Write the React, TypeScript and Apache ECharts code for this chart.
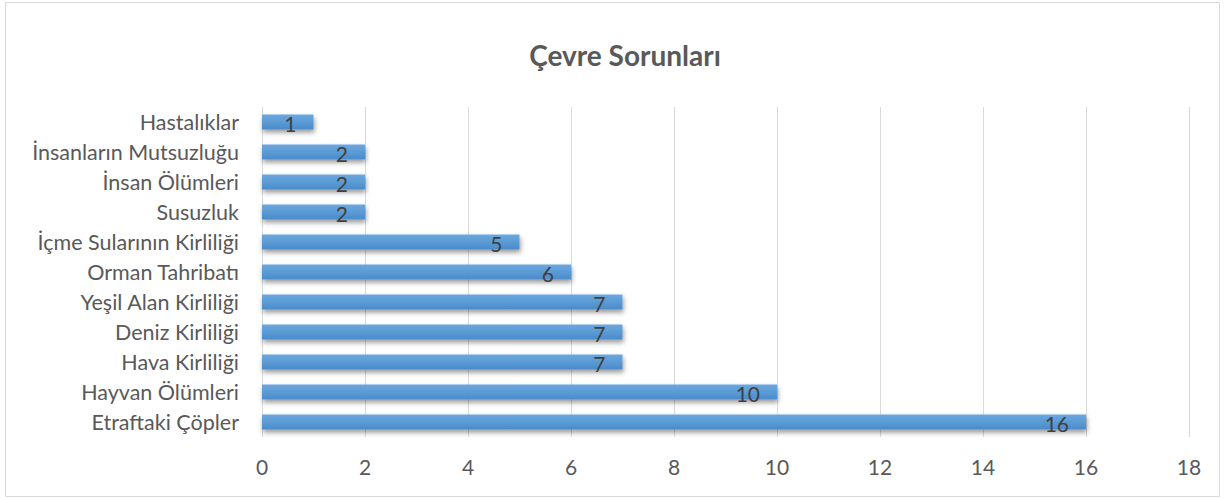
import React, { useEffect, useRef } from "react";
import * as echarts from "echarts";

const categories = [
  "Etraftaki Çöpler",
  "Hayvan Ölümleri",
  "Hava Kirliliği",
  "Deniz Kirliliği",
  "Yeşil Alan Kirliliği",
  "Orman Tahribatı",
  "İçme Sularının Kirliliği",
  "Susuzluk",
  "İnsan Ölümleri",
  "İnsanların Mutsuzluğu",
  "Hastalıklar",
];
const values = [16, 10, 7, 7, 7, 6, 5, 2, 2, 2, 1];
const title = "Çevre Sorunları";

export default function App() {
  const ref = useRef<HTMLDivElement>(null);
  useEffect(() => {
    if (!ref.current) return;
    const chart = echarts.init(ref.current, null, { renderer: "svg" });
    const font = "Lato, 'Open Sans', sans-serif";
    chart.setOption({
      animation: false,
      backgroundColor: "#ffffff",
      graphic: [
        {
          type: "rect",
          shape: { x: 5.5, y: 2.5, width: 1214, height: 494 },
          style: { fill: "none", stroke: "#d9d9d9", lineWidth: 1 },
          silent: true,
        },
        {
          type: "text",
          x: 625,
          y: 55,
          style: {
            text: title,
            fontFamily: font,
            fontSize: 28,
            fontWeight: "bold",
            fill: "#595959",
            textAlign: "center",
            textVerticalAlign: "middle",
          },
          silent: true,
        },
      ],
      grid: { left: 262, top: 107, width: 927, height: 330, containLabel: false },
      xAxis: {
        type: "value",
        min: 0,
        max: 18,
        interval: 2,
        axisLine: { show: false },
        axisTick: { show: false },
        splitLine: { lineStyle: { color: "#d9d9d9", width: 1 } },
        axisLabel: { fontFamily: font, fontSize: 21, color: "#595959", margin: 19 },
      },
      yAxis: {
        type: "category",
        data: categories,
        axisLine: { show: false },
        axisTick: { show: false },
        axisLabel: { fontFamily: font, fontSize: 21.5, color: "#595959", margin: 23 },
      },
      series: [
        {
          type: "bar",
          data: values,
          barWidth: 15,
          itemStyle: {
            color: new echarts.graphic.LinearGradient(0, 0, 0, 1, [
              { offset: 0, color: "#6aa7df" },
              { offset: 0.5, color: "#5b9bd5" },
              { offset: 1, color: "#4a8acb" },
            ]),
            shadowColor: "rgba(0,0,0,0.4)",
            shadowBlur: 5,
            shadowOffsetX: 1,
            shadowOffsetY: 3,
          },
          label: {
            show: true,
            position: "insideRight",
            distance: 17,
            fontFamily: font,
            fontSize: 21,
            color: "#404040",
            offset: [0, 1],
          },
        },
      ],
    });
    return () => chart.dispose();
  }, []);
  return (
    <div
      ref={ref}
      style={{ position: "absolute", left: 0, top: 0, width: 1226, height: 499 }}
    />
  );
}
